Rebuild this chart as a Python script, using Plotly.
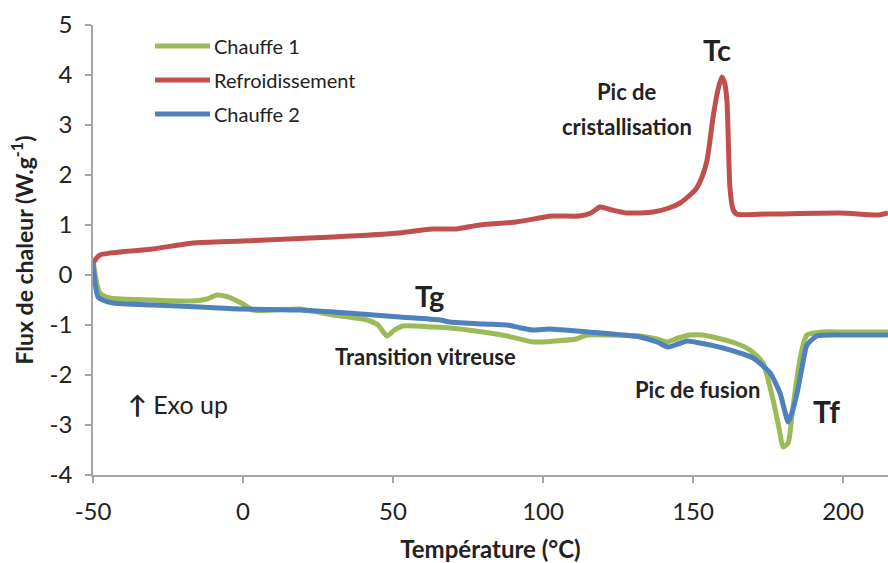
import plotly.graph_objects as go

# DSC thermogram: heat flow vs temperature
temp_chauffe1 = [-50, -47.7, -44.3, -30, -16.7, -12, -8.7, -5.5, -3.3, 0, 3.3, 10, 19, 30, 41.3, 45, 48, 50.5, 53.3, 63.3, 69, 80, 88, 96.7, 104, 111, 114.7, 124, 132.3, 138, 141.3, 145, 149, 153, 158, 164, 169, 173.3, 176.7, 178.8, 180, 181.7, 183, 184.7, 186.5, 188, 193.3, 200, 215]
flux_chauffe1 = [0.30, -0.36, -0.46, -0.50, -0.52, -0.48, -0.40, -0.43, -0.48, -0.58, -0.70, -0.70, -0.68, -0.80, -0.90, -1.00, -1.22, -1.10, -1.02, -1.04, -1.06, -1.14, -1.22, -1.34, -1.32, -1.28, -1.20, -1.20, -1.22, -1.28, -1.34, -1.26, -1.20, -1.20, -1.26, -1.36, -1.50, -1.76, -2.50, -3.10, -3.44, -3.36, -2.80, -2.04, -1.45, -1.20, -1.14, -1.14, -1.14]

temp_refroid = [-50, -47.7, -30, -16.7, 0, 30, 52, 63, 71, 79, 91, 103, 112, 116, 119, 123, 128, 136.7, 142, 145.7, 149, 151, 153, 154.7, 156.7, 158.3, 159.6, 160.5, 161.3, 162.3, 163.3, 164.5, 175, 199, 212, 215]
flux_refroid = [0.24, 0.40, 0.52, 0.64, 0.68, 0.76, 0.84, 0.92, 0.92, 1.00, 1.06, 1.18, 1.18, 1.24, 1.36, 1.30, 1.24, 1.26, 1.34, 1.44, 1.60, 1.72, 1.96, 2.30, 3.16, 3.70, 3.96, 3.85, 3.50, 1.76, 1.32, 1.22, 1.22, 1.24, 1.20, 1.24]

temp_chauffe2 = [-50, -48.3, -46, -43.3, -30, -14.3, 0, 19, 35, 52.3, 65.7, 69, 80, 88, 92, 96.7, 102, 115, 132.3, 138, 141.7, 145, 148, 154, 160, 170, 175.7, 179, 180.5, 181.7, 183, 184.7, 186.5, 188, 191.3, 200, 215]
flux_chauffe2 = [0.24, -0.44, -0.52, -0.56, -0.60, -0.64, -0.68, -0.70, -0.76, -0.84, -0.90, -0.94, -0.98, -1.00, -1.05, -1.10, -1.08, -1.14, -1.24, -1.34, -1.44, -1.38, -1.32, -1.38, -1.46, -1.66, -1.96, -2.36, -2.70, -2.94, -2.75, -2.36, -1.80, -1.40, -1.22, -1.20, -1.20]

x_ticks = [-50, 0, 50, 100, 150, 200]
x_tick_labels = ["-50", "0", "50", "100", "150", "200"]
y_ticks = [-4, -3, -2, -1, 0, 1, 2, 3, 4, 5]
y_tick_labels = ["-4", "-3", "-2", "-1", "0", "1", "2", "3", "4", "5"]

series = [
    ("Chauffe 1", temp_chauffe1, flux_chauffe1, "#9BBB59"),
    ("Refroidissement", temp_refroid, flux_refroid, "#C0504D"),
    ("Chauffe 2", temp_chauffe2, flux_chauffe2, "#4F81BD"),
]

FONT = "Lato"
TXT = "#222222"

fig = go.Figure()
for name, xs, ys, color in series:
    fig.add_trace(go.Scatter(
        x=xs, y=ys, mode="lines", name=name,
        line=dict(color=color, width=5, shape="spline", smoothing=0.6),
        showlegend=False,
    ))

# legend drawn as line samples + labels in the upper-left corner
L, R, T, B = 93, 888, 25, 475
def px(x):
    return (x - L) / (R - L)
def py(y):
    return (B - y) / (B - T)

shapes = []
annotations = []
for i, (name, _, _, color) in enumerate(series):
    yy = 46 + 34 * i
    shapes.append(dict(type="line", xref="paper", yref="paper",
                       x0=px(155), x1=px(210), y0=py(yy), y1=py(yy),
                       line=dict(color=color, width=5)))
    annotations.append(dict(xref="paper", yref="paper", x=px(212), y=py(yy),
                            text=name, showarrow=False, xanchor="left", yanchor="middle",
                            font=dict(family=FONT, size=20, color=TXT)))

labels = [
    (717, 49, "<b>Tc</b>", 29),
    (627, 92, "<b>Pic de</b>", 22),
    (627, 126, "<b>cristallisation</b>", 22),
    (429, 295, "<b>Tg</b>", 29),
    (425, 356, "<b>Transition vitreuse</b>", 22),
    (697, 389, "<b>Pic de fusion</b>", 22),
    (826, 411, "<b>Tf</b>", 30),
    (178, 404, "<b>↑</b> Exo up", 25),
]
for x, y, t, s in labels:
    annotations.append(dict(xref="paper", yref="paper", x=px(x), y=py(y), text=t,
                            showarrow=False, xanchor="center", yanchor="middle",
                            font=dict(family=FONT, size=s, color=TXT)))

fig.update_layout(
    width=888, height=563,
    margin=dict(l=L, r=888 - R, t=T, b=563 - B),
    paper_bgcolor="white", plot_bgcolor="white",
    shapes=shapes, annotations=annotations,
    font=dict(family=FONT, color=TXT),
)
fig.update_xaxes(
    range=[-50, 215], tickvals=x_ticks, ticktext=x_tick_labels,
    showgrid=False, zeroline=False,
    showline=True, linecolor="#a6a6a6", linewidth=1.5,
    ticks="outside", ticklen=6, tickcolor="#a6a6a6", tickwidth=1.5,
    ticklabelstandoff=8,
    tickfont=dict(family=FONT, size=24, color=TXT),
    title=dict(text="<b>Température (°C)</b>", font=dict(family=FONT, size=24, color=TXT), standoff=18),
)
fig.update_yaxes(
    range=[-4, 5], tickvals=y_ticks, ticktext=y_tick_labels,
    showgrid=False, zeroline=False,
    showline=True, linecolor="#a6a6a6", linewidth=1.5,
    ticks="outside", ticklen=6, tickcolor="#a6a6a6", tickwidth=1.5,
    ticklabelstandoff=8,
    tickfont=dict(family=FONT, size=24, color=TXT),
    title=dict(text="<b>Flux de chaleur (W.g<sup>-1</sup>)</b>", font=dict(family=FONT, size=23, color=TXT), standoff=10),
)

fig.write_html("out.html")
